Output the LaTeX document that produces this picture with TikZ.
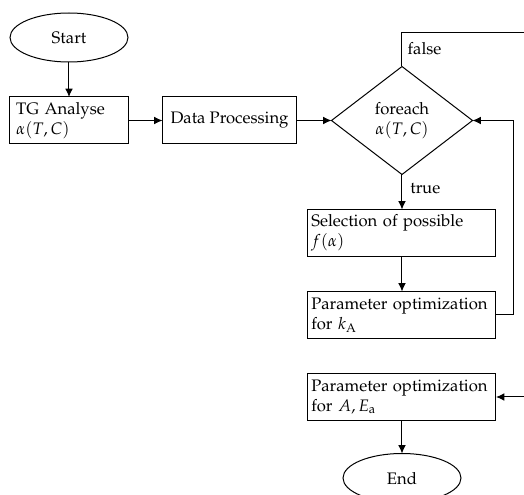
\documentclass[tikz,border=0pt]{standalone}
\usepackage[T1]{fontenc}
\usepackage{mathpazo}
\usepackage{tikz}
\usetikzlibrary{arrows.meta,positioning,shapes.geometric}

\begin{document}
\begin{tikzpicture}[
  x=1pt, y=1pt,
  node distance=21pt and 20.4pt,
  every node/.style={font=\normalsize, outer sep=0pt},
  flow/.style={-{Latex[length=5pt,width=4.6pt]}, line width=0.6pt},
  terminal/.style={draw, ellipse, line width=0.6pt, minimum width=70.8pt, minimum height=29.4pt, inner sep=0pt},
  box/.style={draw, line width=0.6pt, minimum height=28.2pt, inner ysep=0pt},
  stepbox/.style={box, inner xsep=2pt, text width=108.8pt, align=left},
  decision/.style={draw, diamond, line width=0.6pt, minimum width=84.6pt, minimum height=64.8pt, inner sep=0pt, align=center},
  tag/.style={anchor=west, inner sep=0pt}
]
\useasboundingbox (0,0) rectangle (314.4,-297);
\clip (0,0) rectangle (314.4,-297);

\node[terminal] (start) at (41.4,-22.5) {Start};
\node[box, below=of start, inner xsep=4pt, text width=63.4pt, align=left] (tg) {TG Analyse\\$\alpha(T,C)$};
\node[box, right=of tg, minimum width=80.4pt] (dp) {Data Processing};
\node[decision, right=21pt of dp] (foreach) {foreach\\$\alpha(T,C)$};
\node[stepbox, below=of foreach] (select) {Selection of possible\\$f(\alpha)$};
\node[stepbox, below=of select] (optk) {Parameter optimization\\for $k_\mathrm{A}$};
\node[stepbox, below=of optk] (optAE) {Parameter optimization\\for $A, E_\mathrm{a}$};
\node[terminal, below=19.8pt of optAE] (end) {End};

\node[tag] (falsetag) at ([xshift=3.4pt,yshift=10.5pt]foreach.north) {false};
\node[tag] (truetag) at ([xshift=5pt,yshift=-8.4pt]foreach.south) {true};

\coordinate (rim) at (330,-19.8);
\coordinate (loopx) at (308.4,0);

\draw[flow] (start) -- (tg);
\draw[flow] (tg) -- (dp);
\draw[flow] (dp) -- (foreach.west);
\draw[flow] (foreach.south) -- (select);
\draw[flow] (select) -- (optk);
\draw[flow] (optk.east) -| (loopx |- foreach.east) -- (foreach.east);
\draw[flow] (foreach.north) |- (rim) |- (optAE.east);
\draw[flow] (optAE) -- (end);
\end{tikzpicture}
\end{document}
